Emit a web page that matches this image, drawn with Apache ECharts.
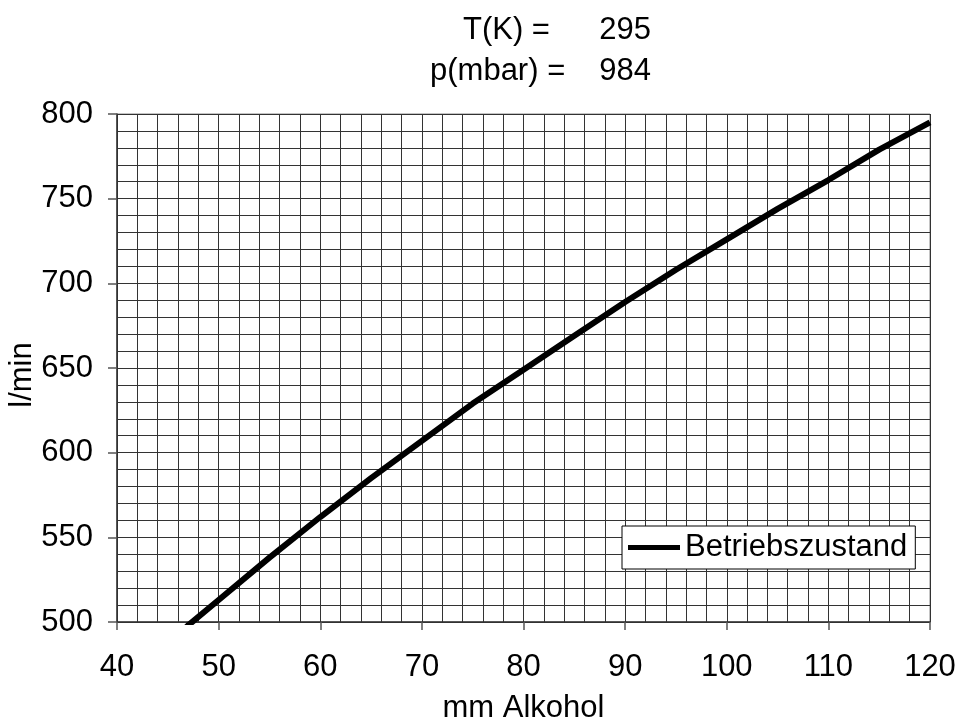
<!DOCTYPE html>
<html>
<head>
<meta charset="utf-8">
<script src="https://cdn.jsdelivr.net/npm/echarts@6/dist/echarts.min.js"></script>
<style>
html,body{margin:0;padding:0;background:#fff;}
#chart{width:958px;height:718px;}
</style>
</head>
<body>
<div id="chart"></div>
<script>
// Data
var mmAlkohol = [46, 47, 50, 55, 60, 65, 70, 75, 80, 85, 90, 95, 100, 105, 110, 115, 120];
var lProMin   = [492, 498, 513, 538, 562, 585, 607, 629, 649, 669, 689, 708, 726, 744, 761, 779, 795];
var seriesName = 'Betriebszustand';
var xTicks = [40, 50, 60, 70, 80, 90, 100, 110, 120];
var yTicks = [500, 550, 600, 650, 700, 750, 800];
var headerLabels = ['T(K) =', 'p(mbar) ='];
var headerValues = ['295', '984'];

var FONT = '"Liberation Sans", Arial, sans-serif';
var chart = echarts.init(document.getElementById('chart'), null, {renderer: 'canvas'});

var lineData = mmAlkohol.map(function (x, i) { return [x, lProMin[i]]; });
var gridColor = '#333';

chart.setOption({
  animation: false,
  backgroundColor: '#fff',
  textStyle: {fontFamily: FONT, color: '#000'},
  grid: {
    left: 117, right: 28, top: 114, bottom: 96,
    containLabel: false, outerBoundsMode: 'none',
    show: true, borderColor: '#888', borderWidth: 1, backgroundColor: 'transparent'
  },
  legend: {
    data: [seriesName],
    left: 622, top: 526,
    padding: [6, 8, 6, 6],
    backgroundColor: '#fff',
    borderColor: '#000', borderWidth: 1,
    icon: 'rect', itemWidth: 52, itemHeight: 5,
    itemStyle: {color: '#000'},
    textStyle: {fontFamily: FONT, fontSize: 31, color: '#000'}
  },
  graphic: [
    {type: 'text', left: 463, top: 15, style: {text: headerLabels[0], font: '31px ' + FONT, fill: '#000'}},
    {type: 'text', left: 430, top: 56, style: {text: headerLabels[1], font: '31px ' + FONT, fill: '#000'}},
    {type: 'text', right: 307, top: 15, style: {text: headerValues[0], font: '31px ' + FONT, fill: '#000'}},
    {type: 'text', right: 307, top: 56, style: {text: headerValues[1], font: '31px ' + FONT, fill: '#000'}}
  ],
  xAxis: {
    type: 'value', min: xTicks[0], max: xTicks[xTicks.length - 1], interval: 10,
    name: 'mm Alkohol', nameLocation: 'middle', nameGap: 71, nameMoveOverlap: false,
    nameTextStyle: {fontFamily: FONT, fontSize: 31, color: '#000'},
    axisLine: {show: true, lineStyle: {color: '#333', width: 1.5}},
    axisTick: {show: true, length: 8, lineStyle: {color: '#555', width: 1.5}},
    axisLabel: {fontFamily: FONT, fontSize: 31, color: '#000', margin: 30},
    splitLine: {show: true, lineStyle: {color: gridColor, width: 1}},
    minorTick: {show: false, splitNumber: 5},
    minorSplitLine: {show: true, lineStyle: {color: gridColor, width: 1}}
  },
  yAxis: {
    type: 'value', min: yTicks[0], max: yTicks[yTicks.length - 1], interval: 50,
    name: 'l/min', nameLocation: 'middle', nameGap: 79, nameRotate: 90, nameMoveOverlap: false,
    nameTextStyle: {fontFamily: FONT, fontSize: 31, color: '#000', padding: [0, 14, 0, 0]},
    axisLine: {show: true, lineStyle: {color: '#333', width: 1.5}},
    axisTick: {show: true, length: 9, lineStyle: {color: '#555', width: 1.5}},
    axisLabel: {fontFamily: FONT, fontSize: 31, color: '#000', margin: 24},
    splitLine: {show: true, lineStyle: {color: gridColor, width: 1}},
    minorTick: {show: false, splitNumber: 5},
    minorSplitLine: {show: true, lineStyle: {color: gridColor, width: 1}}
  },
  series: [{
    name: seriesName,
    type: 'line',
    data: lineData,
    showSymbol: false, symbol: 'none',
    clip: true,
    lineStyle: {color: '#000', width: 6},
    itemStyle: {color: '#000'}
  }]
});
</script>
</body>
</html>
